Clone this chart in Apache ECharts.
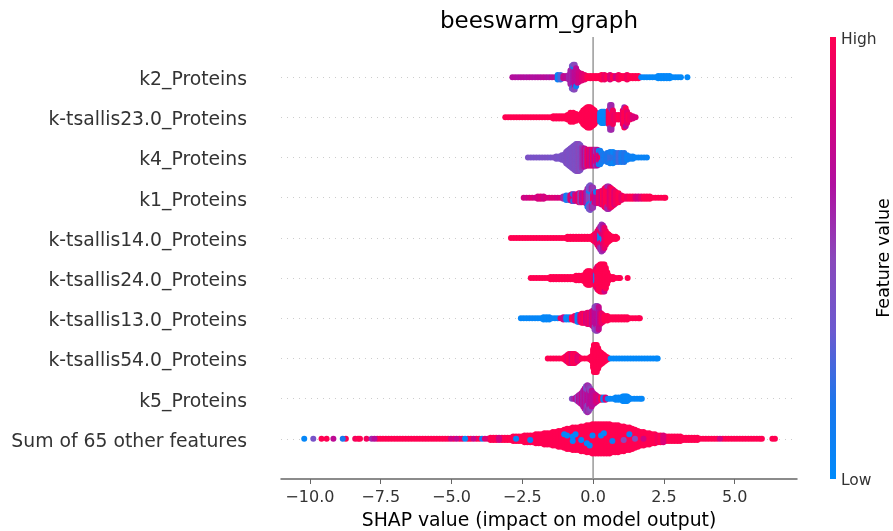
<!DOCTYPE html>
<html><head><meta charset="utf-8">
<style>html,body{margin:0;padding:0;background:#fff}#c{width:893px;height:531px}</style>
<script src="https://cdn.jsdelivr.net/npm/echarts@6/dist/echarts.min.js"></script>
</head><body><div id="c"></div>
<script>
const featureNames=['k2_Proteins','k-tsallis23.0_Proteins','k4_Proteins','k1_Proteins','k-tsallis14.0_Proteins','k-tsallis24.0_Proteins','k-tsallis13.0_Proteins','k-tsallis54.0_Proteins','k5_Proteins','Sum of 65 other features'];
const xTicks=[-10,-7.5,-5,-2.5,0,2.5,5];
const zeroLine=[[0,-1],[0,10]];
// each entry: [SHAP value, number of samples there, feature value 0..1]
const k2Proteins=[[-2.85,1,.68],[-2.75,1,.68],[-2.65,1,.66],[-2.55,1,.68],[-2.45,1,.68],[-2.35,1,.66],[-2.25,1,.68],[-2.15,1,.68],[-2.05,1,.66],[-1.95,1,.68],[-1.85,1,.68],[-1.75,1,.7],[-1.65,1,.68],[-1.55,1,.66],[-1.45,1,.7],[-1.35,1,.7],[-1.25,3,.08],[-1.15,3,.25],[-1.05,2,.75],[-.95,2,.7],[-.85,3,.6],[-.8,7,.62],[-.75,9,.6],[-.75,2,.4],[-.7,8,.65],[-.7,2,.1],[-.7,2,.42],[-.65,9,.72],[-.65,1,.1],[-.65,2,.5],[-.6,8,.7],[-.6,1,.1],[-.55,6,.75],[-.5,5,.8],[-.4,4,.85],[-.3,3,.9],[-.2,2,1],[-.1,2,1],[0,2,1],[.1,2,1],[.2,2,1],[.3,3,1],[.4,3,.92],[.5,2,1],[.6,3,.85],[.7,2,1],[.8,2,.8],[.9,3,.95],[1,2,1],[1.1,2,1],[1.2,3,.95],[1.3,2,1],[1.4,2,1],[1.5,2,1],[1.6,2,1],[1.7,1,.03],[1.8,1,.02],[1.9,1,.03],[2,1,.02],[2.1,1,.02],[2.2,1,.03],[2.3,2,.02],[2.4,2,.02],[2.5,2,.02],[2.6,2,.03],[2.7,2,.02],[2.8,1,.02],[2.9,1,.03],[3,1,.02],[3.1,1,.02],[3.33,1,.02]];
const kTsallis23=[[-3.1,1,1],[-3,1,1],[-2.9,1,1],[-2.8,1,1],[-2.7,1,1],[-2.6,1,1],[-2.5,1,1],[-2.4,1,1],[-2.3,1,1],[-2.2,1,1],[-2.1,1,1],[-2,1,1],[-1.9,1,1],[-1.8,1,1],[-1.7,1,1],[-1.6,1,1],[-1.5,1,1],[-1.4,2,1],[-1.3,2,1],[-1.2,2,1],[-1.1,2,1],[-1,2,1],[-.9,3,1],[-.8,5,1],[-.7,5,1],[-.6,4,1],[-.5,3,1],[-.4,5,1],[-.35,7,1],[-.3,8,1],[-.25,9,1],[-.2,10,1],[-.15,10,1],[-.1,10,1],[-.05,9,1],[0,8,1],[.05,7,1],[.1,5,1],[.2,3,.95],[.25,5,.02],[.3,6,.02],[.35,6,.02],[.4,6,.03],[.45,5,.03],[.5,3,.05],[.55,7,.95],[.6,8,1],[.6,4,.55],[.65,7,1],[.65,5,.6],[.7,7,.95],[.75,3,.9],[.8,3,.95],[.9,3,1],[1,3,1],[1.05,7,.9],[1.1,9,1],[1.1,1,.6],[1.15,8,1],[1.15,1,.7],[1.2,6,.9],[1.25,3,1],[1.3,3,.95],[1.4,2,.85],[1.5,1,.85]];
const k4Proteins=[[-2.3,1,.42],[-2.2,1,.42],[-2.1,1,.4],[-2,1,.42],[-1.9,1,.4],[-1.8,1,.42],[-1.7,1,.42],[-1.6,1,.42],[-1.5,1,.4],[-1.4,1,.42],[-1.3,2,.42],[-1.2,2,.4],[-1.1,3,.42],[-1,4,.42],[-.95,6,.42],[-.9,7,.45],[-.85,8,.42],[-.8,9,.42],[-.75,10,.44],[-.7,11,.42],[-.65,12,.45],[-.6,13,.42],[-.55,13,.45],[-.5,13,.5],[-.45,12,.42],[-.4,10,.55],[-.35,9,.6],[-.3,9,.72],[-.25,8,.6],[-.2,8,.95],[-.15,8,.8],[-.1,8,.92],[-.05,8,.7],[0,8,.95],[.05,8,.72],[.1,5,.9],[.1,3,.55],[.15,8,.7],[.2,5,.9],[.2,2,.08],[.25,5,.8],[.25,2,.12],[.3,3,.98],[.3,2,.1],[.35,3,.2],[.4,3,.1],[.45,4,.15],[.5,5,.18],[.55,5,.15],[.6,4,.22],[.6,2,.12],[.7,4,.2],[.7,2,.05],[.8,5,.15],[.9,5,.25],[1,5,.12],[1.1,5,.18],[1.2,3,.08],[1.3,2,.1],[1.4,2,.08],[1.5,1,.06],[1.6,1,.06],[1.7,1,.06],[1.8,1,.06],[1.9,1,.06]];
const k1Proteins=[[-2.45,1,.8],[-2.35,1,.78],[-2.25,1,.82],[-2.15,1,.85],[-2.05,1,.8],[-1.95,2,.82],[-1.85,2,.85],[-1.75,2,.8],[-1.65,1,.84],[-1.55,1,.82],[-1.45,1,.86],[-1.35,1,.85],[-1.25,1,.82],[-1.15,1,.85],[-1.05,2,.6],[-.95,3,.1],[-.85,3,.25],[-.8,3,.85],[-.75,4,.8],[-.7,2,.85],[-.7,2,.08],[-.65,4,.65],[-.6,3,.95],[-.55,4,.8],[-.5,5,.9],[-.45,5,.5],[-.4,5,.85],[-.35,4,.7],[-.3,5,.9],[-.25,6,.7],[-.2,8,.6],[-.2,1,.1],[-.15,5,.5],[-.15,2,.08],[-.15,4,.35],[-.1,4,.5],[-.1,2,.05],[-.1,6,.42],[-.05,5,.35],[-.05,1,.08],[-.05,4,.6],[0,4,.9],[0,1,.05],[0,5,.55],[.05,5,.85],[.1,5,.7],[.1,1,.1],[.2,6,.9],[.3,7,.8],[.35,7,1],[.4,9,.9],[.45,10,1],[.5,8,1],[.5,3,.6],[.55,9,.95],[.55,2,.6],[.6,10,.85],[.65,9,.95],[.7,8,1],[.75,7,.85],[.8,6,.95],[.9,5,1],[1,3,.9],[1.1,2,1],[1.2,2,.95],[1.3,2,1],[1.4,2,1],[1.5,2,.85],[1.6,2,.8],[1.7,2,.9],[1.8,2,1],[1.9,2,1],[2,2,1],[2.1,1,1],[2.2,1,1],[2.3,1,1],[2.4,1,1],[2.5,1,1],[2.55,1,1]];
const kTsallis14=[[-2.9,1,1],[-2.8,1,1],[-2.7,1,1],[-2.6,1,1],[-2.5,1,1],[-2.4,1,1],[-2.3,1,1],[-2.2,1,1],[-2.1,1,1],[-2,1,1],[-1.9,1,1],[-1.8,1,1],[-1.7,1,1],[-1.6,1,1],[-1.5,1,1],[-1.4,1,1],[-1.3,1,1],[-1.2,1,1],[-1.1,1,1],[-1,1,1],[-.9,2,1],[-.8,2,1],[-.7,2,1],[-.6,2,1],[-.5,2,1],[-.4,2,1],[-.3,2,1],[-.2,2,1],[-.1,2,1],[0,3,1],[.05,4,1],[.1,5,.9],[.15,7,.95],[.2,9,.85],[.25,4,.03],[.25,4,.95],[.25,3,.6],[.3,3,.1],[.3,4,.9],[.3,6,.55],[.35,3,.03],[.35,4,.85],[.35,5,.65],[.4,10,.9],[.45,7,.95],[.5,5,1],[.55,4,1],[.6,3,1],[.7,2,1],[.8,2,1],[.85,1,1]];
const kTsallis24=[[-2.2,1,1],[-2.1,1,1],[-2,1,1],[-1.9,1,1],[-1.8,1,1],[-1.7,1,1],[-1.6,1,1],[-1.5,2,1],[-1.4,2,1],[-1.3,2,1],[-1.2,2,1],[-1.1,2,1],[-1,2,1],[-.9,2,1],[-.8,2,1],[-.7,2,1],[-.6,3,1],[-.5,3,1],[-.4,3,1],[-.3,4,1],[-.25,6,1],[-.2,7,1],[-.15,7,1],[-.1,7,1],[-.05,6,1],[0,5,1],[.05,4,.9],[.1,5,.2],[.1,4,.95],[.15,9,1],[.15,2,.85],[.2,12,1],[.25,13,1],[.3,13,1],[.35,13,1],[.4,12,1],[.4,1,.8],[.45,10,1],[.5,6,1],[.55,3,1],[.6,2,1],[.7,2,1],[.8,1,1],[.9,1,1],[.95,1,1],[1.22,1,1]];
const kTsallis13=[[-2.55,1,.04],[-2.45,1,.04],[-2.35,1,.03],[-2.25,1,.04],[-2.15,1,.05],[-2.05,1,.04],[-1.95,1,.03],[-1.85,1,.03],[-1.75,2,.03],[-1.65,2,.03],[-1.55,2,.04],[-1.45,1,.05],[-1.35,1,.05],[-1.25,1,.03],[-1.15,1,.9],[-1.05,2,.75],[-.95,2,.03],[-.85,2,.06],[-.75,2,1],[-.65,3,.9],[-.55,4,.02],[-.5,4,.1],[-.45,4,.85],[-.4,5,1],[-.35,5,.9],[-.3,5,1],[-.25,5,.8],[-.2,6,.9],[-.15,6,.85],[-.1,6,.95],[-.05,7,.75],[0,8,.85],[.05,8,.7],[.05,3,.5],[.1,8,.7],[.1,4,.48],[.15,8,.72],[.15,4,.55],[.2,8,.65],[.2,3,.75],[.25,6,.8],[.3,5,.95],[.35,4,.9],[.4,3,1],[.5,3,1],[.6,2,1],[.7,2,1],[.8,2,1],[.9,2,1],[1,2,1],[1.1,2,1],[1.2,2,1],[1.3,1,1],[1.4,1,1],[1.5,1,1],[1.6,1,1],[1.65,1,1]];
const kTsallis54=[[-1.6,1,1],[-1.5,1,1],[-1.4,1,1],[-1.3,1,1],[-1.2,1,1],[-1.1,1,1],[-1,2,1],[-.95,3,1],[-.9,4,.9],[-.85,5,1],[-.8,5,.95],[-.75,5,.85],[-.7,5,1],[-.65,5,.95],[-.6,4,1],[-.55,3,.85],[-.5,2,.9],[-.4,1,1],[-.3,1,1],[-.2,1,1],[-.1,2,1],[-.05,3,1],[0,9,1],[.03,13,1],[.08,13,1],[.13,13,1],[.18,10,1],[.23,7,1],[.28,6,1],[.33,5,1],[.38,4,1],[.43,3,1],[.5,2,1],[.62,1,.02],[.72,1,.02],[.82,1,.02],[.92,1,.02],[1.02,1,.02],[1.12,1,.02],[1.22,1,.02],[1.32,1,.02],[1.42,1,.02],[1.52,1,.02],[1.62,1,.02],[1.72,1,.02],[1.82,1,.02],[1.92,1,.02],[2.02,1,.02],[2.12,1,.02],[2.22,1,.02],[2.28,1,.02]];
const k5Proteins=[[-.75,1,.45],[-.68,1,.6],[-.6,2,.75],[-.55,3,.5],[-.5,4,.72],[-.45,5,.6],[-.4,6,.75],[-.35,8,.62],[-.3,10,.7],[-.25,9,.62],[-.25,3,.42],[-.2,6,.72],[-.2,4,.45],[-.2,3,.6],[-.15,8,.65],[-.15,4,.55],[-.1,7,.7],[-.1,3,.5],[-.05,8,.72],[0,6,.68],[.05,5,.72],[.1,4,.8],[.15,3,.85],[.2,2,.75],[.28,2,1],[.36,2,.08],[.44,2,.85],[.52,1,.1],[.6,1,.04],[.7,1,.03],[.8,2,.04],[.9,2,.03],[1,2,.03],[1.05,3,.03],[1.1,3,.02],[1.15,3,.02],[1.2,3,.03],[1.25,2,.03],[1.35,1,.03],[1.45,1,.03],[1.55,1,.03],[1.65,1,.03],[1.72,1,.03]];
const sumOther=[[-10.2,1,.03],[-9.88,1,.4],[-9.59,1,1],[-9.41,1,1],[-9.17,1,.72],[-8.84,1,.15],[-8.73,1,1],[-8.4,1,.95],[-8.3,1,1],[-8.23,1,1],[-8,1,.95],[-7.82,1,.6],[-7.72,1,.7],[-7.62,1,.95],[-7.52,1,1],[-7.42,1,1],[-7.32,1,1],[-7.22,1,1],[-7.12,1,1],[-7.02,1,1],[-6.92,1,1],[-6.82,1,1],[-6.72,1,1],[-6.62,1,1],[-6.52,1,1],[-6.42,1,1],[-6.32,1,1],[-6.22,1,1],[-6.12,1,1],[-6.02,1,1],[-5.92,1,1],[-5.82,1,1],[-5.72,1,1],[-5.62,1,1],[-5.52,1,1],[-5.42,1,1],[-5.32,1,1],[-5.22,1,1],[-5.12,1,1],[-5.02,1,.8],[-4.92,1,1],[-4.82,1,.75],[-4.72,1,1],[-4.62,1,.9],[-4.52,1,.05],[-4.42,1,1],[-4.32,1,1],[-4.22,1,.75],[-4.12,1,1],[-4.02,1,1],[-3.92,1,.1],[-3.82,1,.85],[-3.72,1,.9],[-3.62,2,1],[-3.52,2,1],[-3.42,2,1],[-3.32,2,.8],[-3.22,2,1],[-3.12,2,1],[-3.02,2,1],[-2.92,2,1],[-2.82,3,1],[-2.72,1,.05],[-2.72,2,1],[-2.62,3,1],[-2.52,3,1],[-2.42,4,1],[-2.32,4,1],[-2.22,1,.1],[-2.22,3,1],[-2.12,4,1],[-2.02,5,1],[-1.92,5,1],[-1.82,5,1],[-1.72,6,1],[-1.62,6,1],[-1.52,6,1],[-1.42,7,1],[-1.32,7,1],[-1.22,8,1],[-1.12,8,1],[-1.02,3,1],[-1.02,1,.02],[-1.02,5,1],[-.92,3,1],[-.92,1,.02],[-.92,6,1],[-.82,10,1],[-.72,1,.7],[-.72,2,.02],[-.72,8,1],[-.62,3,1],[-.62,1,.02],[-.62,7,1],[-.52,11,1],[-.42,1,.02],[-.42,11,1],[-.32,12,1],[-.22,4,1],[-.22,1,.02],[-.22,8,1],[-.12,6,1],[-.12,1,.02],[-.12,6,1],[-.02,3,1],[-.02,1,.05],[-.02,10,1],[.08,14,1],[.18,14,1],[.28,3,1],[.28,1,.02],[.28,10,1],[.38,5,1],[.38,1,.05],[.38,8,1],[.48,14,1],[.58,14,1],[.68,2,1],[.68,1,.1],[.68,10,1],[.78,13,1],[.88,13,1],[.98,12,1],[1.08,1,.5],[1.08,11,1],[1.18,11,1],[1.28,3,1],[1.28,1,.08],[1.28,7,1],[1.38,10,1],[1.48,1,.45],[1.48,8,1],[1.58,8,1],[1.68,7,1],[1.78,1,.8],[1.78,6,1],[1.88,6,1],[1.98,6,1],[2.08,5,1],[2.18,5,1],[2.28,4,.95],[2.38,4,1],[2.48,4,.85],[2.58,3,1],[2.68,3,1],[2.78,3,1],[2.88,3,1],[2.98,3,1],[3.08,3,1],[3.18,2,1],[3.28,2,1],[3.38,2,1],[3.48,2,1],[3.58,2,1],[3.68,2,1],[3.78,1,1],[3.88,1,1],[3.98,1,1],[4.08,1,1],[4.18,1,1],[4.28,1,1],[4.38,1,1],[4.48,1,.8],[4.58,1,1],[4.68,1,1],[4.78,1,1],[4.88,1,1],[4.98,1,1],[5.08,1,1],[5.18,1,1],[5.28,1,1],[5.38,1,1],[5.48,1,1],[5.58,1,1],[5.68,1,1],[5.78,1,1],[5.88,1,1],[5.96,1,1],[6.33,1,1],[6.42,1,1]];
const rows=[k2Proteins,kTsallis23,k4Proteins,k1Proteins,kTsallis14,kTsallis24,kTsallis13,kTsallis54,k5Proteins,sumOther];
const colorStops=['#008bfb','#1a76ec','#6b5ad0','#8a48bb','#b00fa0','#d8007a','#ff0051'];

const stackGap=0.056;
function swarm(entries,row){
  const totals={};
  entries.forEach(e=>{totals[e[0]]=(totals[e[0]]||0)+e[1];});
  const seen={},out=[];
  entries.forEach(e=>{
    for(let j=0;j<e[1];j++){
      const i=seen[e[0]]=(seen[e[0]]===undefined?0:seen[e[0]]+1);
      const k=totals[e[0]];
      const sign=i%2?-1:1;
      const lvl=k%2?Math.ceil(i/2):Math.floor(i/2)+.5;
      out.push([e[0],row+sign*lvl*stackGap,e[2]]);
    }
  });
  return out;
}
const points=[];
rows.forEach((r,i)=>{
  const p=swarm(r,i);
  // rare low-valued samples of the aggregate row sit on top of the mass
  if(r===sumOther)p.sort((a,b)=>(a[2]<.9)-(b[2]<.9));
  points.push(...p);
});

const ink='#333333';
const chart=echarts.init(document.getElementById('c'),null,{renderer:'canvas'});
chart.setOption({
  animation:false,
  backgroundColor:'#fff',
  textStyle:{fontFamily:'DejaVu Sans'},
  title:{text:'beeswarm_graph',left:539,top:11,padding:0,textAlign:'center',textStyle:{fontFamily:'DejaVu Sans',fontSize:23,fontWeight:'normal',color:'#000'}},
  grid:{left:281,right:96,top:37,bottom:52,outerBoundsMode:'none'},
  xAxis:{type:'value',min:-11.02,max:7.2,
    name:'SHAP value (impact on model output)',nameLocation:'middle',nameGap:33,
    nameTextStyle:{fontFamily:'DejaVu Sans',fontSize:18.8,color:'#000'},
    axisLine:{show:true,onZero:false,lineStyle:{color:'#666',width:1.5}},
    axisTick:{show:true,customValues:xTicks,length:5,lineStyle:{color:'#666',width:1}},
    axisLabel:{show:true,customValues:xTicks,margin:11,fontFamily:'DejaVu Sans',fontSize:16,color:ink,
      formatter:v=>(v<0?'\u2212':'')+Math.abs(v).toFixed(1)},
    splitLine:{show:false}},
  yAxis:{type:'value',min:-1,max:10,interval:1,inverse:true,
    axisLine:{show:false},axisTick:{show:false},
    axisLabel:{margin:34,showMinLabel:false,showMaxLabel:false,
      rich:{n:{fontFamily:'DejaVu Sans',fontSize:18.8,color:ink,padding:[6,0,0,0]}},
      formatter:v=>featureNames[v]?'{n|'+featureNames[v]+'}':''},
    splitLine:{show:true,showMinLine:false,showMaxLine:false,lineStyle:{color:'#cccccc',width:1,type:[1,5]}}},
  visualMap:{type:'continuous',show:false,min:0,max:1,dimension:2,seriesIndex:1,
    inRange:{color:colorStops}},
  graphic:[
    {type:'rect',shape:{x:830,y:37,width:6,height:442},silent:true,
      style:{fill:new echarts.graphic.LinearGradient(0,1,0,0,colorStops.map((c,i)=>({offset:i/(colorStops.length-1),color:c})))}},
    {type:'text',left:841,top:32,style:{text:'High',font:'15.5px "DejaVu Sans"',fill:ink}},
    {type:'text',left:841,top:473,style:{text:'Low',font:'15.5px "DejaVu Sans"',fill:ink}},
    {type:'text',x:884,y:258,rotation:Math.PI/2,style:{text:'Feature value',font:'17.5px "DejaVu Sans"',fill:'#000',align:'center',verticalAlign:'middle'}}
  ],
  series:[
    {type:'line',data:zeroLine,symbol:'none',silent:true,z:1,lineStyle:{color:'#999',width:1.5}},
    {type:'scatter',data:points,symbol:'circle',symbolSize:6,z:2,itemStyle:{opacity:1}}
  ]
});
</script></body></html>
